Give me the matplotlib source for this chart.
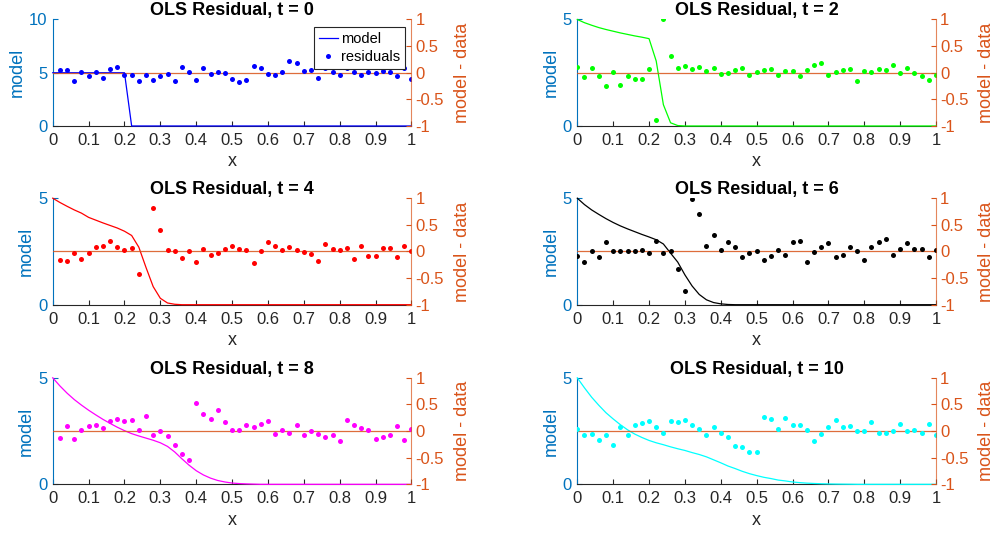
import numpy as np
import matplotlib.pyplot as plt

plt.rcParams['font.family'] = ['Liberation Sans', 'DejaVu Sans']

# grid points
x = np.round(np.arange(51) * 0.02, 2)
x_left = x[1:]   # left-column residuals start at 0.02

times = [0, 2, 4, 6, 8, 10]
line_colors = ['#0000FF', '#00FF00', '#FF0000', '#000000', '#FF00FF', '#00FFFF']

# model profiles on the grid
model_t0 = [5.0] * 11 + [0.0] * 40
model_t2 = [5.0, 4.85, 4.73, 4.62, 4.53, 4.45, 4.37, 4.30, 4.23, 4.17, 4.10,
            3.05, 1.0, 0.15, 0.02] + [0.0] * 36
model_t4 = [5.0, 4.80, 4.62, 4.45, 4.30, 4.10, 3.97, 3.84, 3.72, 3.60, 3.45,
            3.25, 2.70, 1.75, 0.85, 0.30, 0.08, 0.02] + [0.0] * 33
model_t6 = [5.0, 4.70, 4.45, 4.24, 4.04, 3.86, 3.70, 3.56, 3.43, 3.30, 3.18,
            3.05, 2.85, 2.42, 2.0, 1.40, 0.88, 0.48, 0.23, 0.10, 0.04, 0.01] + [0.0] * 29
model_t8 = [5.0, 4.62, 4.28, 3.98, 3.72, 3.48, 3.26, 3.05, 2.86, 2.68, 2.52,
            2.38, 2.27, 2.17, 2.07, 1.95, 1.78, 1.52, 1.20, 0.90, 0.64, 0.44,
            0.29, 0.18, 0.11, 0.06, 0.035, 0.02, 0.01] + [0.0] * 22
model_t10 = [5.0, 4.53, 4.09, 3.71, 3.36, 3.07, 2.80, 2.56, 2.36, 2.20, 2.06,
             1.95, 1.86, 1.76, 1.67, 1.59, 1.49, 1.40, 1.29, 1.15, 1.01, 0.86,
             0.74, 0.61, 0.50, 0.41, 0.33, 0.27, 0.20, 0.16, 0.11, 0.08, 0.055,
             0.04, 0.027, 0.018, 0.012, 0.008, 0.005] + [0.0] * 12

# residuals (model - data)
res_t0 = [0.05, 0.05, -0.15, 0.02, -0.06, 0.02, -0.09, 0.07, 0.11, -0.05,
          -0.05, -0.16, -0.04, -0.13, -0.07, -0.03, -0.15, 0.11, 0.01, -0.14,
          0.09, -0.03, 0.01, -0.01, -0.11, -0.17, -0.13, 0.12, 0.09, -0.03,
          -0.04, 0.01, 0.22, 0.18, 0.04, 0.06, -0.09, 0.09, 0.01, -0.04,
          0.08, 0.01, -0.05, 0.02, -0.01, 0.03, 0.01, -0.06, 0.09, -0.11]
res_t2 = [0.107, -0.08, 0.09, -0.06, -0.25, 0.02, -0.23, -0.06, -0.12, -0.11,
          0.075, -0.89, 1.0, 0.32, 0.09, 0.125, 0.07, 0.11, 0.03, 0.09,
          -0.02, -0.01, 0.06, 0.09, -0.04, 0.02, 0.05, 0.07, -0.05, 0.04,
          0.025, -0.06, 0.045, 0.15, 0.18, -0.045, 0.02, 0.06, 0.075, -0.15,
          0.04, 0.02, 0.07, 0.045, 0.14, -0.01, 0.08, 0.0, -0.07, -0.13, -0.05]
res_t4 = [-0.16, -0.185, -0.03, -0.15, -0.03, 0.085, 0.10, 0.20, 0.085, 0.02,
          0.065, -0.43, np.nan, 0.82, 0.40, 0.035, 0.0, -0.12, 0.01, -0.20,
          0.04, -0.07, -0.03, 0.04, 0.11, 0.05, 0.02, -0.22, 0.01, 0.17,
          0.10, 0.03, 0.085, 0.03, -0.015, -0.04, -0.185, 0.135, 0.05, 0.02,
          0.065, -0.135, 0.10, -0.09, -0.08, 0.065, 0.065, -0.10, 0.11, 0.0]
res_t6 = [-0.08, -0.19, 0.0, -0.10, 0.185, 0.0, 0.01, 0.0, 0.01, 0.03,
          -0.035, 0.20, -0.035, 0.01, -0.33, -0.74, 0.99, 0.70, 0.11, 0.31,
          0.02, 0.185, 0.08, -0.10, -0.035, 0.01, -0.16, -0.085, 0.02, -0.065,
          0.18, 0.20, -0.19, -0.015, 0.09, 0.16, -0.10, -0.06, 0.085, 0.015,
          -0.16, 0.08, 0.185, 0.24, -0.07, 0.04, 0.165, 0.04, 0.05, -0.10, 0.02]
res_t8 = [-0.13, 0.09, -0.14, 0.02, 0.095, 0.12, 0.065, 0.195, 0.22, 0.19,
          0.21, 0.025, 0.29, -0.065, 0.0, -0.10, -0.26, -0.43, -0.54, 0.52,
          0.33, 0.22, 0.40, 0.17, 0.025, 0.02, 0.11, 0.07, 0.13, 0.19,
          -0.05, 0.025, -0.03, 0.11, -0.07, 0.0, -0.055, -0.105, -0.065, -0.195,
          0.215, 0.105, 0.065, 0.025, -0.15, -0.105, -0.08, 0.09, -0.16, 0.03]
res_t10 = [0.03, -0.065, -0.05, -0.165, -0.08, -0.26, 0.07, -0.07, 0.11, 0.155,
           0.19, 0.07, -0.03, 0.19, 0.175, 0.20, 0.105, 0.045, -0.075, 0.08,
           -0.04, -0.11, -0.28, -0.30, -0.385, -0.385, 0.265, 0.225, 0.03, 0.25,
           0.12, 0.105, 0.025, -0.195, -0.05, 0.07, 0.20, 0.07, 0.09, -0.005,
           0.01, 0.17, -0.045, -0.045, 0.0, 0.125, 0.0, 0.02, -0.03, 0.13, -0.08]

models = [model_t0, model_t2, model_t4, model_t6, model_t8, model_t10]
residuals = [res_t0, res_t2, res_t4, res_t6, res_t8, res_t10]

x_ticks = np.round(np.arange(11) * 0.1, 1)
x_ticklabels = ['0'] + ['%.1f' % v for v in x_ticks[1:-1]] + ['1']
r_ticks = [-1, -0.5, 0, 0.5, 1]
r_ticklabels = ['-1', '-0.5', '0', '0.5', '1']

blue = '#0072BD'
orange = '#D95319'
dark = '#262626'

# axes boxes in figure fractions
lefts = [0.053, 0.5802]
bottoms = [0.7654, 0.4326, 0.0981]
width = 0.3605
height = 0.1983

fig = plt.figure(figsize=(9.95, 5.37), dpi=100)

for i, t in enumerate(times):
    row, col = i // 2, i % 2
    ax = fig.add_axes([lefts[col], bottoms[row], width, height])
    c = line_colors[i]

    ln, = ax.plot(x, models[i], color=c, lw=0.9, clip_on=False, label='model', zorder=3)
    ax.set_xlim(0, 1)
    if t == 0:
        ax.set_ylim(0, 10)
        ax.set_yticks([0, 5, 10])
    else:
        ax.set_ylim(0, 5)
        ax.set_yticks([0, 5])
    ax.set_xticks(x_ticks)
    ax.set_xticklabels(x_ticklabels)

    ax2 = ax.twinx()
    ax2.axhline(0, color=orange, lw=0.9, alpha=0.85)
    xr = x_left if col == 0 else x
    pts, = ax2.plot(xr, residuals[i], 'o', ms=3.6, mec='none', color=c, label='residuals')
    ax2.set_ylim(-1, 1)
    ax2.set_yticks(r_ticks)
    ax2.set_yticklabels(r_ticklabels)

    for a in (ax, ax2):
        a.spines['top'].set_visible(False)
    ax.spines['right'].set_visible(False)
    ax2.spines['left'].set_visible(False)
    ax2.spines['bottom'].set_visible(False)
    ax.spines['left'].set_color(blue)
    ax.spines['bottom'].set_color(dark)
    ax2.spines['right'].set_color(orange)
    ax2.spines['right'].set_alpha(0.7)

    ax.tick_params(axis='x', direction='in', length=3.5, colors=dark, labelsize=12, pad=5)
    ax.tick_params(axis='y', direction='in', length=3.5, colors=blue, labelsize=12, pad=4)
    ax2.tick_params(axis='y', direction='in', length=3.5, colors=orange, labelsize=12, pad=3)

    ax.set_xlabel('x', fontsize=13, color=dark, labelpad=4)
    ax.set_ylabel('model', fontsize=13, color=blue, labelpad=2)
    ax2.set_ylabel('model - data', fontsize=13, color=orange, labelpad=7)
    ax.set_title('OLS Residual, t = %d' % t, fontsize=13, fontweight='bold', pad=3)

    if t == 0:
        leg = ax2.legend([ln, pts], ['model', 'residuals'], loc='upper right',
                         bbox_to_anchor=(405 / 995, 1 - 27 / 537),
                         bbox_transform=fig.transFigure, fontsize=10.5,
                         fancybox=False, framealpha=1, edgecolor=dark,
                         handlelength=1.3, borderpad=0.35, labelspacing=0.25,
                         handletextpad=0.2, borderaxespad=0)
        leg.get_frame().set_linewidth(0.8)

fig.savefig('out.png', dpi=100)
